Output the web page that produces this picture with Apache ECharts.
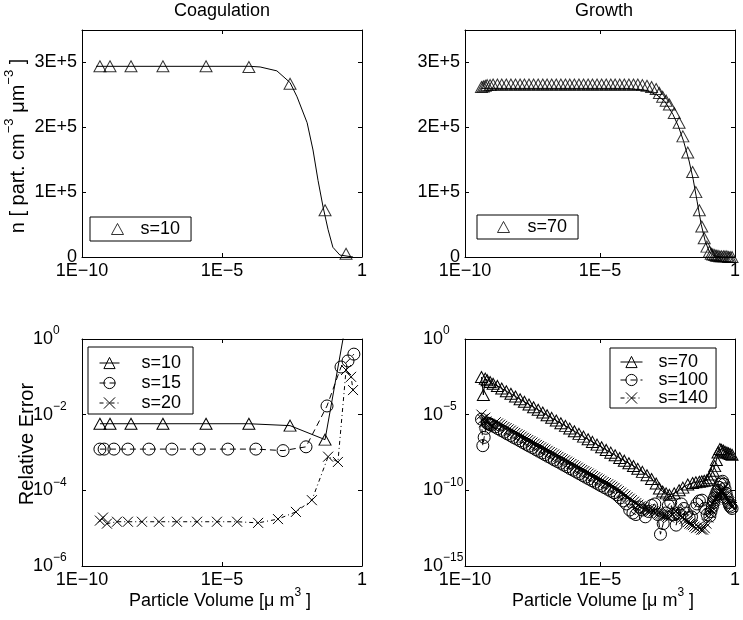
<!DOCTYPE html>
<html>
<head>
<meta charset="utf-8">
<script src="https://cdn.jsdelivr.net/npm/echarts@6/dist/echarts.min.js"></script>
<style>html,body{margin:0;padding:0;background:#fff;}#c{width:743px;height:620px;}</style>
</head>
<body>
<div id="c"></div>
<script>
// ---------- DATA (x values are log10 of particle volume in um^3) ----------
// Coagulation, numerical s=10 (triangles) and analytical (line)
const coagLogV = [-9.36, -9.00, -8.25, -7.11, -5.57, -4.04, -2.57, -1.32, -0.57];
const coagN = [2.94e5, 2.94e5, 2.94e5, 2.94e5, 2.94e5, 2.93e5, 2.67e5, 0.72e5, 0.05e5];
const coagExactLogV = [-9.5, -4.0, -3.64, -3.04, -2.57, -2.32, -1.96, -1.75, -1.57, -1.39, -1.21, -1.04, -0.79, -0.32];
const coagExactN = [2.94e5, 2.94e5, 2.93e5, 2.87e5, 2.69e5, 2.47e5, 2.07e5, 1.65e5, 1.18e5, 0.77e5, 0.42e5, 0.15e5, 0.03e5, 0];

// Growth, numerical s=70 (triangles) and analytical (line)
const growthLogV = [-9.39, -9.32, -9.25, -9.18, -9.07, -8.96,
  -8.80, -8.64, -8.47, -8.30, -8.13, -7.96, -7.80, -7.63, -7.46, -7.29,
  -7.12, -6.96, -6.79, -6.62, -6.45, -6.28, -6.12, -5.95, -5.78, -5.61,
  -5.44, -5.28, -5.11, -4.94, -4.77, -4.60, -4.44, -4.27, -4.10, -3.93,
  -3.76, -3.60, -3.43, -3.26, -3.09, -2.92,
  -2.80, -2.68, -2.55, -2.43, -2.25, -2.07, -1.93, -1.75, -1.57, -1.45, -1.32, -1.23, -1.14, -1.04,
  -0.95, -0.88, -0.82, -0.75, -0.69, -0.63, -0.56, -0.50, -0.43, -0.37, -0.30, -0.24, -0.18, -0.11];
const growthN = [2.62e5, 2.63e5, 2.64e5, 2.65e5, 2.65e5, 2.66e5,
  2.66e5, 2.66e5, 2.66e5, 2.66e5, 2.66e5, 2.66e5, 2.66e5, 2.66e5, 2.66e5, 2.66e5,
  2.66e5, 2.66e5, 2.66e5, 2.66e5, 2.66e5, 2.66e5, 2.66e5, 2.66e5, 2.66e5, 2.66e5,
  2.66e5, 2.66e5, 2.66e5, 2.66e5, 2.66e5, 2.66e5, 2.66e5, 2.66e5, 2.66e5, 2.66e5,
  2.66e5, 2.66e5, 2.65e5, 2.64e5, 2.62e5, 2.59e5,
  2.53e5, 2.47e5, 2.41e5, 2.35e5, 2.22e5, 2.07e5, 1.86e5, 1.61e5, 1.31e5, 1.00e5, 0.72e5, 0.47e5, 0.29e5, 0.16e5,
  0.08e5, 0.05e5, 0.04e5, 0.03e5, 0.02e5, 0.02e5, 0.01e5, 0.01e5, 0.01e5, 0.01e5, 0.01e5, 0, 0, 0];
const growthExactLogV = [-9.4, -4.0, -3.3, -2.9, -2.6, -2.3, -2.1, -1.9, -1.7, -1.55, -1.4, -1.25, -1.1, -0.95, -0.8, -0.5, 0];
const growthExactN = [2.60e5, 2.60e5, 2.57e5, 2.50e5, 2.40e5, 2.20e5, 2.02e5, 1.78e5, 1.48e5, 1.20e5, 0.85e5, 0.50e5, 0.24e5, 0.08e5, 0.02e5, 0, 0];

// Relative error, coagulation (log10 of error)
const err10LogV = [-9.36, -9.00, -8.25, -7.11, -5.57, -4.04, -2.57, -1.32, -0.57];
const err10Log = [-2.24, -2.24, -2.24, -2.24, -2.24, -2.24, -2.29, -2.66, 0.45];
const err15LogV = [-9.36, -9.21, -8.86, -8.36, -7.61, -6.79, -5.82, -4.79, -3.79, -2.82, -2.00, -1.25, -0.75, -0.50, -0.29];
const err15Log = [-2.91, -2.91, -2.91, -2.91, -2.91, -2.91, -2.91, -2.91, -2.91, -2.95, -2.85, -1.77, -0.74, -0.58, -0.40];
const err20LogV = [-9.36, -9.25, -9.11, -8.75, -8.36, -7.86, -7.25, -6.61, -5.89, -5.18, -4.46, -3.71, -3.00, -2.36, -1.79, -1.21, -0.86, -0.57, -0.39, -0.32];
const err20Log = [-4.80, -4.72, -4.88, -4.83, -4.83, -4.83, -4.83, -4.83, -4.83, -4.83, -4.83, -4.86, -4.76, -4.57, -4.26, -3.11, -3.25, -0.82, -1.00, -1.35];

// Relative error, growth (log10 of error)
const err70Log = [-2.51, -3.70, -2.62, -2.72, -2.84, -2.96,
  -3.10, -3.27, -3.45, -3.62, -3.80, -3.98, -4.15, -4.33, -4.51, -4.68,
  -4.86, -5.04, -5.21, -5.39, -5.57, -5.74, -5.92, -6.10, -6.27, -6.45,
  -6.63, -6.80, -6.98, -7.15, -7.33, -7.51, -7.68, -7.86, -8.04, -8.21,
  -8.39, -8.58, -8.78, -9.00, -9.25, -9.55,
  -9.88, -10.08, -10.20, -10.30, -10.20, -10.00, -9.82, -9.62, -9.52, -9.47, -9.43, -9.40, -9.37, -9.33,
  -9.20, -8.95, -8.70, -8.40, -8.00, -7.50, -7.27, -7.32, -7.38, -7.45, -7.50, -7.55, -7.60, -7.65];
const err100LogV = [-9.39, -9.34, -9.29, -9.23, -9.18, -9.13, -9.07, -9.02,
  -8.89, -8.78, -8.66, -8.54, -8.43, -8.31, -8.20, -8.08, -7.96, -7.85,
  -7.73, -7.62, -7.50, -7.38, -7.27, -7.15, -7.04, -6.92, -6.80, -6.69,
  -6.57, -6.45, -6.34, -6.22, -6.11, -5.99, -5.87, -5.76, -5.64, -5.53,
  -5.41, -5.29, -5.18, -5.06, -4.95, -4.83, -4.71, -4.60, -4.48, -4.37,
  -4.25, -4.13, -4.02, -3.90, -3.78, -3.67, -3.55, -3.44, -3.32, -3.20,
  -3.09, -2.97,
  -2.86, -2.76, -2.66, -2.57, -2.47, -2.38, -2.28, -2.18, -2.09, -1.99,
  -1.89, -1.80, -1.70, -1.61, -1.51, -1.41, -1.32, -1.22, -1.12, -1.03,
  -0.93, -0.89, -0.84, -0.80, -0.76, -0.71, -0.67, -0.63, -0.59, -0.54,
  -0.50, -0.46, -0.41, -0.37, -0.33, -0.29, -0.24, -0.20, -0.16, -0.11];
const err100Log = [-5.30, -7.05, -6.50, -5.90, -5.55, -5.60, -5.65, -5.70,
  -5.81, -5.92, -6.04, -6.15, -6.27, -6.38, -6.50, -6.61, -6.73, -6.84,
  -6.96, -7.07, -7.18, -7.30, -7.41, -7.53, -7.64, -7.76, -7.87, -7.99,
  -8.10, -8.21, -8.33, -8.44, -8.56, -8.67, -8.79, -8.90, -9.02, -9.13,
  -9.25, -9.36, -9.47, -9.59, -9.70, -9.82, -9.93, -10.05, -10.16,
  -10.30, -10.50, -10.70, -10.90, -11.30, -11.50, -11.60, -11.10, -11.30, -11.75, -11.40, -11.00, -10.90,
  -11.60, -12.90, -12.20, -11.50, -11.00, -10.80, -11.60, -12.30, -11.50, -10.90,
  -11.20, -11.50, -11.80, -11.75, -11.20, -10.90, -10.70, -10.65, -11.20, -11.60,
  -11.70, -11.40, -11.10, -10.80, -10.50, -10.30, -10.10, -10.00, -9.80, -9.60,
  -9.50, -9.40, -9.60, -9.90, -10.20, -10.50, -10.80, -11.00, -11.10, -11.20];
const err140LogV = [-9.39, -9.35, -9.30, -9.25, -9.21, -9.16, -9.11, -9.07, -9.02, -8.97,
  -8.86, -8.78, -8.70, -8.62, -8.54, -8.46, -8.38, -8.30, -8.22, -8.14,
  -8.06, -7.98, -7.90, -7.82, -7.74, -7.66, -7.58, -7.50, -7.42, -7.34,
  -7.26, -7.18, -7.10, -7.02, -6.94, -6.86, -6.78, -6.70, -6.62, -6.54,
  -6.46, -6.38, -6.30, -6.22, -6.14, -6.06, -5.98, -5.90, -5.82, -5.74,
  -5.66, -5.58, -5.50, -5.42, -5.34, -5.26, -5.18, -5.10, -5.02, -4.94,
  -4.86, -4.78, -4.70, -4.62, -4.54, -4.46, -4.38, -4.30, -4.22, -4.14,
  -4.06, -3.98, -3.90, -3.82, -3.74, -3.66, -3.58, -3.50, -3.42, -3.34,
  -3.26, -3.18, -3.10, -3.02, -2.94,
  -2.82, -2.76, -2.70, -2.63, -2.57, -2.51, -2.44, -2.38, -2.32, -2.25,
  -2.19, -2.13, -2.07, -2.00, -1.94, -1.88, -1.81, -1.75, -1.69, -1.62,
  -1.56, -1.50, -1.44, -1.37, -1.31, -1.25, -1.18, -1.12, -1.06, -0.99,
  -0.93, -0.89, -0.86, -0.83, -0.79, -0.76, -0.72, -0.69, -0.65, -0.62,
  -0.59, -0.55, -0.52, -0.48, -0.45, -0.41, -0.38, -0.35, -0.31, -0.28,
  -0.24, -0.21, -0.17, -0.14, -0.11];
const err140Log = [-5.00, -5.30, -5.50, -5.20, -5.45, -5.55, -5.60, -5.65, -5.70, -5.75,
  -5.50, -5.58, -5.66, -5.74, -5.82, -5.89, -5.97, -6.05, -6.13, -6.21,
  -6.29, -6.37, -6.45, -6.53, -6.60, -6.68, -6.76, -6.84, -6.92, -7.00,
  -7.08, -7.16, -7.24, -7.31, -7.39, -7.47, -7.55, -7.63, -7.71, -7.79,
  -7.87, -7.95, -8.02, -8.10, -8.18, -8.26, -8.34, -8.42, -8.50, -8.58,
  -8.66, -8.73, -8.81, -8.89, -8.97, -9.05, -9.13, -9.21, -9.29, -9.37,
  -9.45, -9.52, -9.60, -9.68, -9.76, -9.84,
  -9.95, -10.05, -10.15, -10.25, -10.35, -10.45, -10.55, -10.65, -10.75, -10.85,
  -10.95, -11.05, -11.10, -11.20, -11.25, -11.30, -11.35, -11.40, -11.45,
  -11.50, -11.55, -11.60, -11.65, -11.70, -11.75, -11.80, -11.70, -11.60, -11.50,
  -11.40, -11.50, -11.60, -11.70, -11.80, -11.90, -12.00, -12.10, -12.20, -12.25,
  -12.30, -12.40, -12.50, -12.40, -12.50, -12.60, -12.60, -12.50, -12.20, -11.80,
  -11.50, -11.30, -11.10, -10.90, -10.80, -10.70, -10.60, -10.50, -10.40, -10.30,
  -10.20, -10.10, -10.00, -10.00, -10.10, -10.20, -10.30, -10.40, -10.50, -10.60,
  -10.70, -10.80, -10.90, -11.00, -11.10];

// Tick labels
const xTickValues = [-10, -5, 0];
const xTickLabels = ['1E\u221210', '1E\u22125', '1'];
const nTickValues = [0, 1e5, 2e5, 3e5];
const nTickLabels = ['0', '1E+5', '2E+5', '3E+5'];
const errCoagTickValues = [-6, -4, -2, 0];
const errCoagTickExp = ['\u22126', '\u22124', '\u22122', '0'];
const errGrowthTickValues = [-15, -10, -5, 0];
const errGrowthTickExp = ['\u221215', '\u221210', '\u22125', '0'];

// ---------- CHART ----------
const FONT = '"Liberation Sans", Arial, Helvetica, sans-serif';
const pts = (xs, ys) => xs.map((x, i) => [x, ys[i]]);
const lookup = (vals, labels) => v => { const i = vals.findIndex(t => Math.abs(t - v) < 1e-9); return i < 0 ? '' : labels[i]; };
const supRich = {
  b: { fontSize: 18, fontFamily: FONT, color: '#000', padding: [5, 0, 5, 0] },
  s: { fontSize: 12, fontFamily: FONT, color: '#000', verticalAlign: 'top' }
};
const tick = { show: true, inside: true, length: 4, lineStyle: { color: '#000', width: 1 } };
const line = { show: true, onZero: false, lineStyle: { color: '#000', width: 1 } };

function xAxes(g) {
  const base = { type: 'value', gridIndex: g, min: -10, max: 0, interval: 5, axisLine: line, axisTick: tick, splitLine: { show: false } };
  return [
    Object.assign({}, base, { position: 'bottom', axisLabel: { show: true, formatter: lookup(xTickValues, xTickLabels), color: '#000', fontSize: 18, fontFamily: FONT, margin: 5 } }),
    Object.assign({}, base, { position: 'top', axisLabel: { show: false } })
  ];
}
function yAxes(g, min, max, interval, labelOpt) {
  const base = { type: 'value', gridIndex: g, min, max, interval, axisLine: line, axisTick: tick, splitLine: { show: false } };
  return [
    Object.assign({}, base, { position: 'left', axisLabel: labelOpt }),
    Object.assign({}, base, { position: 'right', axisLabel: { show: false } })
  ];
}
const nLabel = { show: true, formatter: lookup(nTickValues, nTickLabels), color: '#000', fontSize: 18, fontFamily: FONT, margin: 5, showMaxLabel: true };
const errLabel = (vals, exps, margin) => ({
  show: true, align: 'left', margin,
  formatter: v => { const e = lookup(vals, exps)(v); return e === '' ? '' : '{b|10}{s|' + e + '}'; },
  rich: supRich
});

const mk = {
  tri: { symbol: 'triangle', symbolSize: [12, 11] },
  cir: { symbol: 'circle', symbolSize: 12 },
  crs: { symbol: 'path://M0,0L10,10M0,10L10,0', symbolSize: 10 }
};
const hollow = { color: 'rgba(0,0,0,0)', borderColor: '#000', borderWidth: 1 };

function lineSeries(name, xi, data, m, dash) {
  return Object.assign({
    name, type: 'line', xAxisIndex: xi, yAxisIndex: xi, data,
    showSymbol: true, showAllSymbol: true, itemStyle: hollow,
    lineStyle: { color: '#000', width: 1, type: dash },
    emphasis: { disabled: true }, silent: true, clip: true, z: 2
  }, m);
}
function exactSeries(xi, data) {
  return { type: 'line', xAxisIndex: xi, yAxisIndex: xi, data, showSymbol: false, symbol: 'none',
    lineStyle: { color: '#000', width: 1 }, emphasis: { disabled: true }, silent: true, clip: true };
}
function scatterSeries(name, xi, data) {
  return Object.assign({ name, type: 'scatter', xAxisIndex: xi, yAxisIndex: xi, data,
    itemStyle: hollow, emphasis: { disabled: true }, silent: true, z: 3 }, mk.tri);
}

function legendOpt(extra, textPad) {
  return Object.assign({
    orient: 'vertical', backgroundColor: '#fff', borderColor: '#000', borderWidth: 1, borderRadius: 0,
    selectedMode: false, formatter: n => n.trim(),
    itemStyle: { color: 'rgba(0,0,0,0)', borderColor: '#000', borderWidth: 1 },
    lineStyle: { color: '#000', width: 1 },
    textStyle: { fontSize: 18, lineHeight: 18, color: '#000', fontFamily: FONT, padding: [0, 0, 0, textPad] }
  }, extra);
}

const supName = { a: { fontSize: 20, fontFamily: FONT, color: '#000', padding: [5, 0, 5, 0] }, s: { fontSize: 13, fontFamily: FONT, color: '#000', verticalAlign: 'top' } };
const supNameX = { a: { fontSize: 18, fontFamily: FONT, color: '#000', padding: [5, 0, 5, 0] }, s: { fontSize: 12, fontFamily: FONT, color: '#000', verticalAlign: 'top' } };
function label(x, y, text, rot, rich, size) {
  return { type: 'text', x, y, rotation: rot || 0, silent: true,
    style: { text, rich: rich || undefined, font: (size || 18) + 'px ' + FONT, fill: '#000', align: 'center', verticalAlign: 'middle' } };
}

const chart = echarts.init(document.getElementById('c'), null, { renderer: 'canvas' });
chart.setOption({
  animation: false,
  backgroundColor: '#fff',
  grid: [
    { left: 82, top: 30, width: 280, height: 227 },
    { left: 465, top: 30, width: 280, height: 227 },
    { left: 82, top: 339, width: 280, height: 227 },
    { left: 465, top: 339, width: 280, height: 227 }
  ],
  xAxis: [].concat(xAxes(0), xAxes(1), xAxes(2), xAxes(3)),
  yAxis: [].concat(
    yAxes(0, 0, 3.5e5, 1e5, nLabel),
    yAxes(1, 0, 3.5e5, 1e5, nLabel),
    yAxes(2, -6, 0, 2, errLabel(errCoagTickValues, errCoagTickExp, 49)),
    yAxes(3, -15, 0, 5, errLabel(errGrowthTickValues, errGrowthTickExp, 42))
  ),
  legend: [
    legendOpt({ data: ['s=10'], left: 90, top: 217, padding: [3, 11, 3, 21], itemWidth: 12, itemHeight: 11, itemGap: 0 }, 12),
    legendOpt({ data: ['s=70'], left: 477, top: 215, padding: [3, 11, 3, 20], itemWidth: 12, itemHeight: 11, itemGap: 0 }, 13),
    legendOpt({ data: ['s=10 ', 's=15', 's=20'], left: 88, top: 347, padding: [7, 12, 2, 11], itemWidth: 20, itemHeight: 14, itemGap: 2 }, 17),
    legendOpt({ data: ['s=70 ', 's=100', 's=140'], left: 610, top: 348, padding: [5, 8, 1, 10], itemWidth: 22, itemHeight: 14, itemGap: 0 }, 11)
  ],
  series: [
    exactSeries(0, pts(coagExactLogV, coagExactN)),
    scatterSeries('s=10', 0, pts(coagLogV, coagN)),
    exactSeries(2, pts(growthExactLogV, growthExactN)),
    scatterSeries('s=70', 2, pts(growthLogV, growthN)),
    lineSeries('s=10 ', 4, pts(err10LogV, err10Log), mk.tri, 'solid'),
    lineSeries('s=15', 4, pts(err15LogV, err15Log), mk.cir, [6, 4]),
    lineSeries('s=20', 4, pts(err20LogV, err20Log), mk.crs, [4, 3, 1, 3]),
    lineSeries('s=70 ', 6, pts(growthLogV, err70Log), mk.tri, 'solid'),
    lineSeries('s=100', 6, pts(err100LogV, err100Log), mk.cir, [6, 4]),
    lineSeries('s=140', 6, pts(err140LogV, err140Log), mk.crs, [4, 3, 1, 3])
  ],
  graphic: [
    label(222, 11, 'Coagulation'),
    label(604, 11, 'Growth'),
    label(18, 146, '{a|n [ part. cm}{s|\u22123}{a| \u03bcm}{s|\u22123}{a| ]}', Math.PI / 2, supName, 20),
    label(27, 444, 'Relative Error', Math.PI / 2, null, 20),
    label(220, 601, '{a|Particle Volume [\u03bc m}{s|3}{a| ]}', 0, supNameX),
    label(603, 601, '{a|Particle Volume [\u03bc m}{s|3}{a| ]}', 0, supNameX)
  ]
});
</script>
</body>
</html>
